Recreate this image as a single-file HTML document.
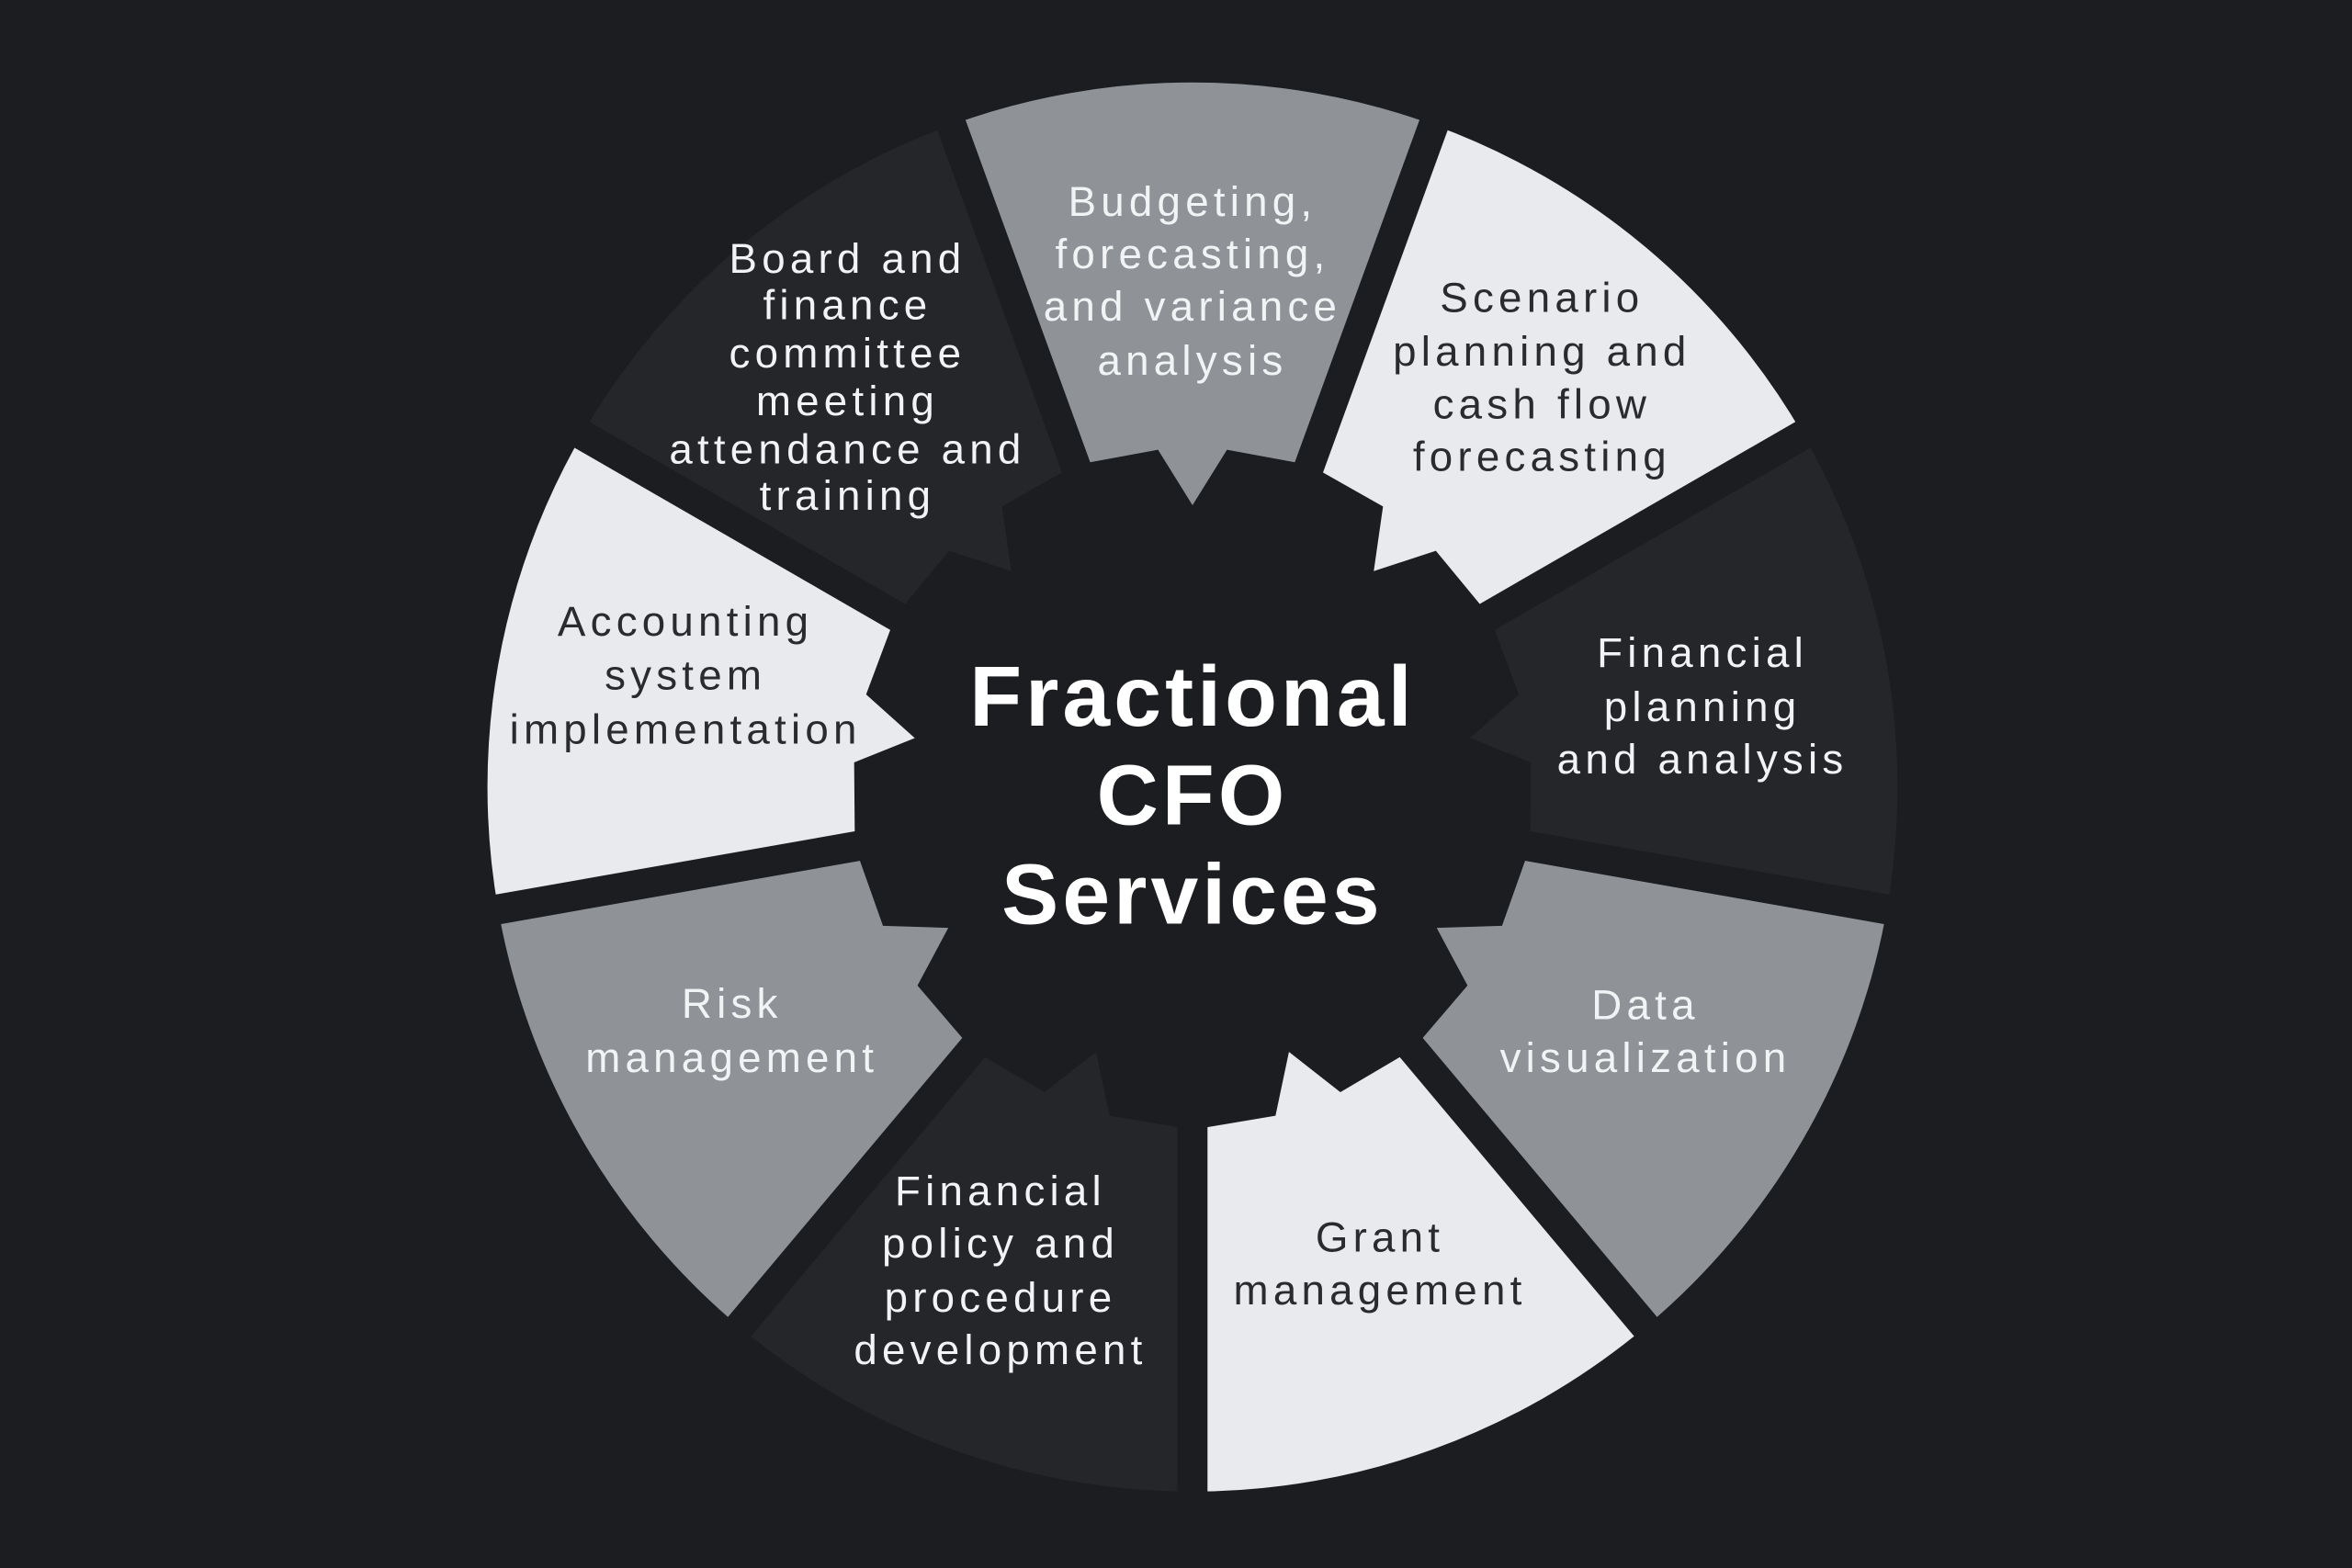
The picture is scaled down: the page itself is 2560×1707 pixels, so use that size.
<!DOCTYPE html>
<html><head><meta charset="utf-8"><style>
html,body{margin:0;padding:0;background:#1c1d20;}
svg{display:block}
text{font-family:"Liberation Sans",sans-serif;text-anchor:middle;}
.w{fill:#f2f3f5;font-size:28px;letter-spacing:3.2px}
.d{fill:#2a2b2e;font-size:28px;letter-spacing:3.2px}
</style></head><body>
<svg width="2560" height="1707" viewBox="0 0 1568 1046" preserveAspectRatio="none" xmlns="http://www.w3.org/2000/svg">
<rect width="1568" height="1046" fill="#1c1d20"/>
<defs>
<path id="seg" d="M634.3,83.3 A470,470 0 0 1 955.7,83.3 L872,310 L818,300 L795,337 L772,300 L718,310 Z"/>
</defs>
<g>
<use href="#seg" fill="#8f9398" transform="rotate(0 795 525)"/>
<use href="#seg" fill="#e9eaed" transform="rotate(40 795 525)"/>
<use href="#seg" fill="#25262a" transform="rotate(80 795 525)"/>
<use href="#seg" fill="#8f9398" transform="rotate(120 795 525)"/>
<use href="#seg" fill="#e9eaed" transform="rotate(160 795 525)"/>
<use href="#seg" fill="#25262a" transform="rotate(200 795 525)"/>
<use href="#seg" fill="#8f9398" transform="rotate(240 795 525)"/>
<use href="#seg" fill="#e9eaed" transform="rotate(280 795 525)"/>
<use href="#seg" fill="#25262a" transform="rotate(320 795 525)"/>
</g>
<g stroke="#1c1d20" stroke-width="20">
<line x1="795" y1="525" x2="795" y2="20" transform="rotate(-20 795 525)"/>
<line x1="795" y1="525" x2="795" y2="20" transform="rotate(20 795 525)"/>
<line x1="795" y1="525" x2="795" y2="20" transform="rotate(60 795 525)"/>
<line x1="795" y1="525" x2="795" y2="20" transform="rotate(100 795 525)"/>
<line x1="795" y1="525" x2="795" y2="20" transform="rotate(140 795 525)"/>
<line x1="795" y1="525" x2="795" y2="20" transform="rotate(180 795 525)"/>
<line x1="795" y1="525" x2="795" y2="20" transform="rotate(220 795 525)"/>
<line x1="795" y1="525" x2="795" y2="20" transform="rotate(260 795 525)"/>
<line x1="795" y1="525" x2="795" y2="20" transform="rotate(300 795 525)"/>
</g>
<g fill="#ffffff" font-size="57" font-weight="bold" letter-spacing="2.5">
<text x="795" y="484">Fractional</text>
<text x="795" y="550">CFO</text>
<text x="795" y="616">Services</text>
</g>

<text class="w"><tspan x="795" y="144">Budgeting,</tspan><tspan x="795" y="179">forecasting,</tspan><tspan x="795" y="214">and variance</tspan><tspan x="795" y="250">analysis</tspan></text>
<text class="d"><tspan x="1028" y="208">Scenario</tspan><tspan x="1028" y="244">planning and</tspan><tspan x="1028" y="279">cash flow</tspan><tspan x="1028" y="314">forecasting</tspan></text>
<text class="w"><tspan x="1135" y="445">Financial</tspan><tspan x="1135" y="481">planning</tspan><tspan x="1135" y="516">and analysis</tspan></text>
<text class="w"><tspan x="1097" y="680">Data</tspan><tspan x="1097" y="715">visualization</tspan></text>
<text class="d"><tspan x="920" y="835">Grant</tspan><tspan x="920" y="870">management</tspan></text>
<text class="w"><tspan x="667" y="804">Financial</tspan><tspan x="667" y="839">policy and</tspan><tspan x="667" y="875">procedure</tspan><tspan x="667" y="910">development</tspan></text>
<text class="w"><tspan x="488" y="679">Risk</tspan><tspan x="488" y="715">management</tspan></text>
<text class="d"><tspan x="457" y="424">Accounting</tspan><tspan x="457" y="460">system</tspan><tspan x="457" y="496">implementation</tspan></text>
<text class="w"><tspan x="565" y="182">Board and</tspan><tspan x="565" y="213">finance</tspan><tspan x="565" y="245">committee</tspan><tspan x="565" y="277">meeting</tspan><tspan x="565" y="309">attendance and</tspan><tspan x="565" y="340">training</tspan></text>
</svg>
</body></html>
